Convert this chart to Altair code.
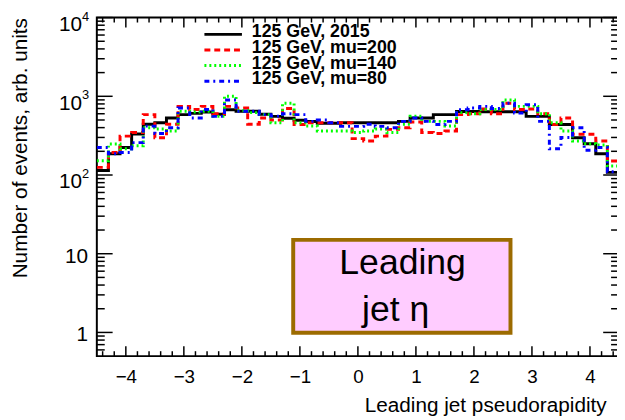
import altair as alt
import pandas as pd

# ---------------- data ----------------
bin_edges = [round(-4.5 + 0.2 * i, 1) for i in range(46)]

h_2015 = [114, 186, 224, 331, 442, 462, 531, 585, 607, 632, 590, 675, 645, 645, 590,
          556, 525, 497, 478, 455, 455, 460, 460, 460, 460, 460, 480, 531, 531, 585,
          585, 640, 640, 635, 635, 635, 635, 556, 556, 437, 437, 297, 249, 186, 108]
h_mu200 = [125, 193, 312, 346, 585, 297, 442, 745, 680, 745, 600, 745, 710, 442, 531,
           500, 700, 437, 460, 460, 460, 462, 290, 270, 312, 380, 398, 470, 346, 337,
           363, 585, 600, 690, 600, 815, 680, 690, 600, 437, 531, 330, 330, 270, 151]
h_mu140 = [152, 247, 215, 235, 398, 383, 363, 645, 630, 645, 556, 1000, 660, 620, 585,
           460, 815, 460, 420, 363, 363, 363, 346, 363, 383, 346, 440, 560, 480, 480,
           420, 620, 600, 680, 680, 900, 745, 745, 600, 460, 363, 270, 250, 240, 130]
h_mu80 = [224, 186, 193, 258, 418, 337, 398, 710, 531, 680, 556, 900, 645, 645, 585,
          560, 600, 585, 480, 500, 462, 415, 415, 442, 415, 398, 480, 531, 480, 437,
          480, 675, 710, 745, 700, 815, 613, 780, 480, 215, 300, 398, 206, 224, 110]

series_names = ["125 GeV, 2015", "125 GeV, mu=200", "125 GeV, mu=140", "125 GeV, mu=80"]
series_values = [h_2015, h_mu200, h_mu140, h_mu80]
series_colors = ["#000000", "#ff0000", "#00ff00", "#0000ff"]
series_dash = [[1, 0], [6, 4], [2, 3], [5, 4, 2, 4]]

x_major = [-4, -3, -2, -1, 0, 1, 2, 3, 4]
x_minor = [round(-4.4 + 0.2 * i, 1) for i in range(45)]
x_minor = [v for v in x_minor if abs(v - round(v)) > 1e-6]
y_major = [1, 10, 100, 1000, 10000]
y_minor = [0.6, 0.7, 0.8, 0.9] + [m * d for d in [1, 10, 100, 1000] for m in range(2, 10)]
y_exp_labels = pd.DataFrame({"y": [10000, 1000, 100], "base": ["10"] * 3, "exp": ["4", "3", "2"]})
y_plain_labels = pd.DataFrame({"y": [10, 1], "base": ["10", "1"]})

box_x = [-1.115, 2.63]
box_y = [0.99, 15.0]
box_text = pd.DataFrame({"x": [0.77, 0.65], "y": [5.49, 1.41], "t": ["Leading", "jet η"]})

# ---------------- layout ----------------
W, H = 529, 343
FONT = "Liberation Sans"

xs = alt.Scale(domain=[-4.5, 4.5], nice=False, zero=False)
ys = alt.Scale(type="log", domain=[0.5, 10000], nice=False)

xaxis = alt.Axis(values=x_major, format="d", ticks=False, domain=False, grid=False,
                 labelFontSize=19, labelFont=FONT, labelColor="black", labelPadding=12,
                 title="Leading jet pseudorapidity", titleFont=FONT, titleFontSize=21,
                 titleFontWeight="normal", titleColor="black", titleAnchor="end",
                 titleAlign="right", titleBaseline="alphabetic", titleX=516, titleY=56)
yaxis = alt.Axis(labels=False, ticks=False, domain=False, grid=False,
                 title="Number of events, arb. units", titleFont=FONT, titleFontSize=21,
                 titleFontWeight="normal", titleColor="black", titleAngle=270,
                 titleAlign="right", titleBaseline="middle", titleX=-77, titleY=0)

X = lambda: alt.X("x:Q", scale=xs, axis=xaxis)
Y = lambda: alt.Y("y:Q", scale=ys, axis=yaxis)

layers = []

# histograms
for name, vals, col, dash in zip(series_names, series_values, series_colors, series_dash):
    df = pd.DataFrame({"x": bin_edges, "y": vals + [vals[-1]]})
    layers.append(alt.Chart(df).mark_line(interpolate="step-after", color=col, strokeDash=dash,
                                          strokeWidth=3, clip=True).encode(x=X(), y=Y()))

# ticks (inward)
dfy_maj = pd.DataFrame({"y": y_major})
dfy_min = pd.DataFrame({"y": y_minor})
dfx_maj = pd.DataFrame({"x": x_major})
dfx_min = pd.DataFrame({"x": x_minor})
tk = dict(color="black", strokeWidth=1.5)
layers += [
    alt.Chart(dfy_maj).mark_rule(**tk).encode(y=Y(), x=alt.value(0), x2=alt.value(16)),
    alt.Chart(dfy_min).mark_rule(**tk).encode(y=Y(), x=alt.value(0), x2=alt.value(8)),
    alt.Chart(dfy_maj).mark_rule(**tk).encode(y=Y(), x=alt.value(W), x2=alt.value(W - 16)),
    alt.Chart(dfy_min).mark_rule(**tk).encode(y=Y(), x=alt.value(W), x2=alt.value(W - 8)),
    alt.Chart(dfx_maj).mark_rule(**tk).encode(x=X(), y=alt.value(H), y2=alt.value(H - 10)),
    alt.Chart(dfx_min).mark_rule(**tk).encode(x=X(), y=alt.value(H), y2=alt.value(H - 5)),
    alt.Chart(dfx_maj).mark_rule(**tk).encode(x=X(), y=alt.value(0), y2=alt.value(10)),
    alt.Chart(dfx_min).mark_rule(**tk).encode(x=X(), y=alt.value(0), y2=alt.value(5)),
]

# y tick labels
layers += [
    alt.Chart(y_exp_labels).mark_text(font=FONT, fontSize=21, align="right", baseline="middle",
                                      dy=7.5, color="black").encode(y=Y(), x=alt.value(-15), text="base:N"),
    alt.Chart(y_exp_labels).mark_text(font=FONT, fontSize=13, align="left", baseline="middle",
                                      dy=-1, color="black").encode(y=Y(), x=alt.value(-15), text="exp:N"),
    alt.Chart(y_plain_labels).mark_text(font=FONT, fontSize=21, align="right", baseline="middle",
                                        dy=3, color="black").encode(y=Y(), x=alt.value(-9), text="base:N"),
]

# legend
one = pd.DataFrame({"a": [0]})
for i, (name, col, dash) in enumerate(zip(series_names, series_colors, series_dash)):
    ly = 17 + 15.8 * i
    layers.append(alt.Chart(one).mark_rule(color=col, strokeDash=dash, strokeWidth=3).encode(
        x=alt.value(109), x2=alt.value(147), y=alt.value(ly)))
    layers.append(alt.Chart(one).mark_text(text=name, font=FONT, fontSize=18, fontWeight="bold",
                                           align="left", baseline="alphabetic", color="black").encode(
        x=alt.value(157), y=alt.value(ly + 3)))

# annotation box
box_df = pd.DataFrame({"x": [box_x[0]], "x2": [box_x[1]], "y": [box_y[0]], "y2": [box_y[1]]})
layers.append(alt.Chart(box_df).mark_rect(fill="#ffccff", stroke="#9c6b00", strokeWidth=4).encode(
    x=X(), x2="x2:Q", y=Y(), y2="y2:Q"))
layers.append(alt.Chart(box_text).mark_text(font=FONT, fontSize=36, align="center",
                                            baseline="alphabetic", color="black").encode(
    x=X(), y=Y(), text="t:N"))

chart = alt.layer(*layers).properties(
    width=W, height=H,
    autosize=alt.AutoSizeParams(type="none"),
    padding={"left": 90, "top": 7, "right": -2, "bottom": 62},
    background="white",
).configure_view(stroke="black", strokeWidth=2)

chart.save("out.html", embed_options={"renderer": "svg", "actions": False})
